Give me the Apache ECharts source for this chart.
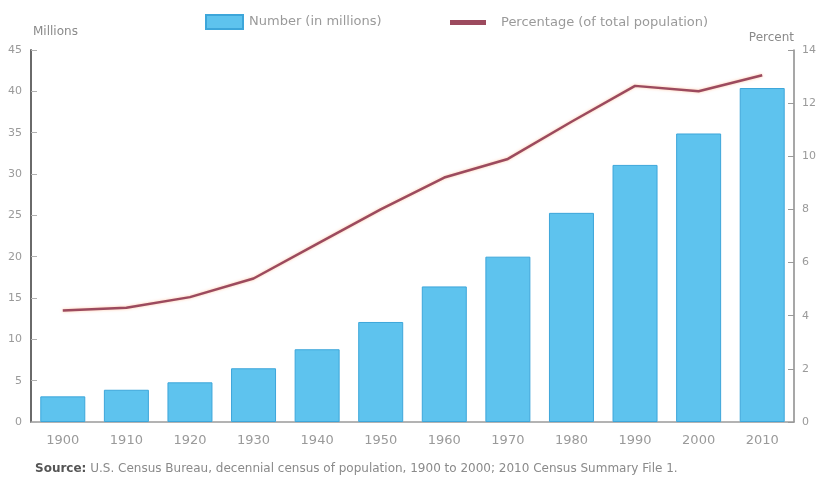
<!DOCTYPE html>
<html>
<head>
<meta charset="utf-8">
<script src="https://cdn.jsdelivr.net/npm/echarts@6/dist/echarts.min.js"></script>
<style>
  html, body { margin: 0; padding: 0; background: #ffffff; }
  #chart { width: 819px; height: 481px; }
</style>
</head>
<body>
<div id="chart"></div>
<script>
// Older population, 1900-2010: count and share of total population
const years = ['1900', '1910', '1920', '1930', '1940', '1950', '1960', '1970', '1980', '1990', '2000', '2010'];
const numberMillions = [3.1, 3.9, 4.8, 6.5, 8.8, 12.1, 16.4, 20.0, 25.3, 31.1, 34.9, 40.4];
const percentOfTotal = [4.2, 4.3, 4.7, 5.4, 6.7, 8.0, 9.2, 9.9, 11.3, 12.65, 12.45, 13.05];
const leftTicks = [0, 5, 10, 15, 20, 25, 30, 35, 40, 45];
const rightTicks = [0, 2, 4, 6, 8, 10, 12, 14];

const barName = 'Number (in millions)';
const lineName = 'Percentage (of total population)';
const textGray = '#9a9a9a';
const lineColor = '#9c4a5e';
const font = 'DejaVu Sans';

const chart = echarts.init(document.getElementById('chart'));
chart.setOption({
  animation: false,
  backgroundColor: '#ffffff',
  textStyle: { fontFamily: font },
  title: {
    left: 30,
    top: 458,
    text: '{b|Source:} U.S. Census Bureau, decennial census of population, 1900 to 2000; 2010 Census Summary File 1.',
    textStyle: {
      fontSize: 12,
      fontWeight: 'normal',
      color: '#8a8a8a',
      fontFamily: font,
      rich: { b: { fontSize: 12, fontWeight: 'bold', color: '#555555', fontFamily: font } }
    }
  },
  legend: [
    {
      data: [barName],
      left: 200,
      top: 9,
      itemWidth: 37,
      itemHeight: 14,
      icon: 'rect',
      textStyle: { color: textGray, fontSize: 13, fontFamily: font, padding: [0, 0, 0, 1] }
    },
    {
      data: [lineName],
      left: 445,
      top: 11,
      itemWidth: 36,
      itemHeight: 5,
      icon: 'rect',
      textStyle: { color: textGray, fontSize: 13, fontFamily: font, padding: [0, 0, 0, 10] }
    }
  ],
  grid: { left: 31, right: 22, top: 50, bottom: 59, containLabel: false },
  xAxis: {
    type: 'category',
    data: years,
    axisLine: { lineStyle: { color: '#9a9a9a', width: 1.5 } },
    axisTick: { show: false },
    axisLabel: { color: textGray, fontSize: 13, margin: 12, fontFamily: font }
  },
  yAxis: [
    {
      type: 'value',
      name: 'Millions',
      nameLocation: 'end',
      nameGap: 12,
      nameTextStyle: { color: '#8a8a8a', fontSize: 12, align: 'left', padding: [0, 0, 0, 2] },
      min: leftTicks[0],
      max: leftTicks[leftTicks.length - 1],
      interval: 5,
      position: 'left',
      splitLine: { show: false },
      axisLine: { show: true, lineStyle: { color: '#6a6a6a', width: 2 } },
      axisTick: { show: true, inside: true, length: 6, lineStyle: { color: '#b0b0b0' } },
      axisLabel: { color: textGray, fontSize: 11, margin: 9, fontFamily: font }
    },
    {
      type: 'value',
      name: 'Percent',
      nameLocation: 'end',
      nameGap: 6,
      nameTextStyle: { color: '#8a8a8a', fontSize: 12, align: 'right', padding: [0, 0, 0, 0] },
      min: rightTicks[0],
      max: rightTicks[rightTicks.length - 1],
      interval: 2,
      position: 'right',
      splitLine: { show: false },
      axisLine: { show: true, lineStyle: { color: '#8a8a8a', width: 1.5 } },
      axisTick: { show: true, inside: true, length: 6, lineStyle: { color: '#9a9a9a' } },
      axisLabel: { color: textGray, fontSize: 11, margin: 8, fontFamily: font }
    }
  ],
  series: [
    {
      name: barName,
      type: 'bar',
      yAxisIndex: 0,
      data: numberMillions,
      barWidth: 45,
      itemStyle: { color: '#5ec3ee', borderColor: '#3da6da', borderWidth: 1 }
    },
    {
      name: lineName,
      type: 'line',
      yAxisIndex: 1,
      data: percentOfTotal,
      symbol: 'none',
      z: 5,
      lineStyle: {
        color: lineColor,
        width: 2.5,
        shadowColor: 'rgba(255, 150, 90, 0.55)',
        shadowBlur: 3
      },
      itemStyle: { color: lineColor }
    }
  ]
});
</script>
</body>
</html>
